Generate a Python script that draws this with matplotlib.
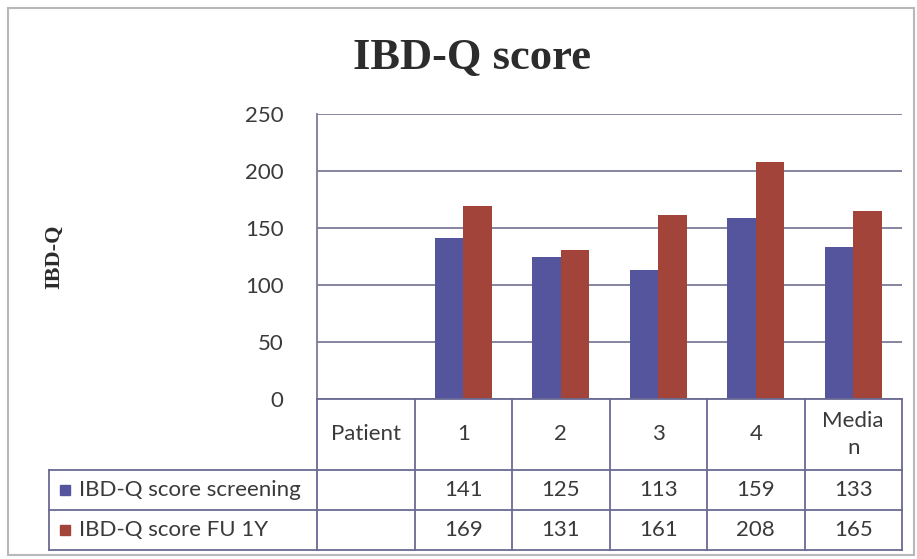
import matplotlib
matplotlib.use('Agg')
import matplotlib.pyplot as plt
from matplotlib.patches import Rectangle
import numpy as np

# data
columns = ['Patient', '1', '2', '3', '4', 'Media\nn']
screening = [None, 141, 125, 113, 159, 133]
fu_1y = [None, 169, 131, 161, 208, 165]
series_names = ['IBD-Q score screening', 'IBD-Q score FU 1Y']
yticks = [0, 50, 100, 150, 200, 250]

blue = '#55559e'
red = '#a3443a'
gridc = '#7c7c98'
linec = '#6a6a94'
textc = '#3a3a3a'

W, H = 917, 559
fig = plt.figure(figsize=(W / 100, H / 100), dpi=100)
fig.patch.set_facecolor('white')

# outer frame
fig.add_artist(Rectangle((8 / W, 1 - 555 / H), 906 / W, 547 / H, transform=fig.transFigure,
                         fill=False, edgecolor='#b8b8b8', lw=1.5))

ax = fig.add_axes([317 / W, 1 - 399 / H, 585 / W, 285 / H])

x = np.arange(len(columns))
bw = 0.29
xs = [i for i in x if screening[i] is not None]
ax.bar([i - bw / 2 for i in xs], [screening[i] for i in xs], bw, color=blue, zorder=3)
ax.bar([i + bw / 2 for i in xs], [fu_1y[i] for i in xs], bw, color=red, zorder=3)

ax.set_xlim(-0.5, len(columns) - 0.5)
ax.set_ylim(0, 250)
ax.set_yticks(yticks)
ax.set_xticks([])
ax.yaxis.grid(True, color=gridc, lw=1.3, zorder=0)
ax.tick_params(axis='y', length=0, pad=24, labelsize=16, labelcolor=textc)
for lab in ax.get_yticklabels():
    lab.set_family('Lato')
for s in ['top', 'right', 'bottom']:
    ax.spines[s].set_visible(False)
ax.spines['left'].set_color(gridc)
ax.spines['left'].set_linewidth(1.3)

# title and y label
fig.text(472 / W, 1 - 58 / H, 'IBD-Q score', ha='center', va='center',
         family='Liberation Serif', weight='bold', fontsize=32, color='#2c2c2c')
fig.text(54 / W, 1 - 257 / H, 'IBD-Q', ha='center', va='center', rotation=90,
         family='Liberation Serif', weight='bold', fontsize=16, color='#2c2c2c')

# data table under the axes
tx = ax.get_xaxis_transform()
ah = 285.0
y_head = -71 / ah
y_r1 = -111 / ah
y_r2 = -151 / ah
lab_left = (49 - 317) / 585

kw = dict(color=linec, lw=1.3, clip_on=False, zorder=5)
ax.plot([-0.5, len(columns) - 0.5], [0, 0], transform=tx, **kw)
for yy in [y_head, y_r1, y_r2]:
    ax.plot([lab_left, 1], [yy, yy], transform=ax.transAxes, **kw)
for i in range(len(columns) + 1):
    ax.plot([i - 0.5, i - 0.5], [0, y_r2], transform=tx, **kw)
ax.plot([lab_left, lab_left], [y_head, y_r2], transform=ax.transAxes, **kw)

tkw = dict(ha='center', va='center', family='Lato', fontsize=16, color=textc,
           transform=tx, clip_on=False)
for i, c in enumerate(columns):
    ax.text(i, y_head / 2, c, linespacing=1.45, **tkw)
    if screening[i] is not None:
        ax.text(i, (y_head + y_r1) / 2, str(screening[i]), **tkw)
        ax.text(i, (y_r1 + y_r2) / 2, str(fu_1y[i]), **tkw)

for name, col, y0, y1 in [(series_names[0], blue, y_head, y_r1),
                          (series_names[1], red, y_r1, y_r2)]:
    ym = (y0 + y1) / 2
    sq = 10 / 585
    ax.add_patch(Rectangle(((60 - 317) / 585, ym - 5 / ah), sq, 10 / ah,
                           transform=ax.transAxes, color=col, clip_on=False))
    ax.text((79 - 317) / 585, ym, name, ha='left', va='center', family='Lato',
            fontsize=16, color=textc, transform=ax.transAxes, clip_on=False)

fig.savefig('out.png', dpi=100)
